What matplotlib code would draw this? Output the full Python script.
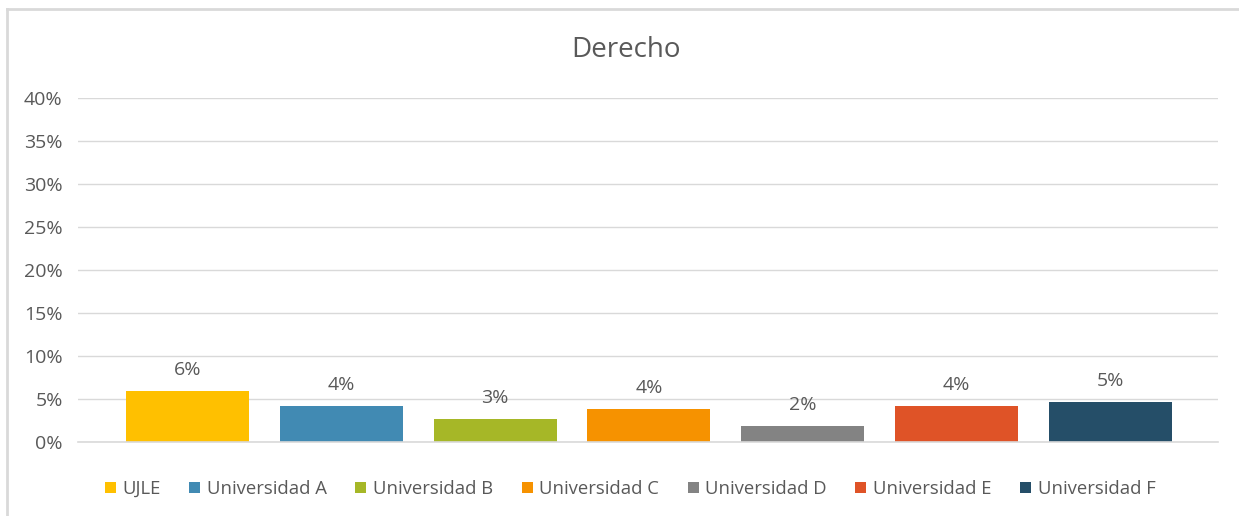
import matplotlib.pyplot as plt
from matplotlib.patches import Patch
from matplotlib.lines import Line2D
from matplotlib.ticker import FuncFormatter

plt.rcParams['font.family'] = ['Open Sans', 'DejaVu Sans']

title = "Derecho"
universidades = ["UJLE", "Universidad A", "Universidad B", "Universidad C",
                 "Universidad D", "Universidad E", "Universidad F"]
valores = [5.9, 4.2, 2.7, 3.8, 1.9, 4.2, 4.6]
colores = ["#FFC000", "#418AB3", "#A6B727", "#F69200",
           "#838383", "#DF5327", "#254E68"]
yticks = [0, 5, 10, 15, 20, 25, 30, 35, 40]

txt = "#595959"
grid = "#D9D9D9"

fig = plt.figure(figsize=(12.39, 5.16), dpi=100)
ax = fig.add_axes([78/1239, 1-442/516, 1140/1239, 344/516])

x = list(range(len(valores)))
bars = ax.bar(x, valores, width=0.8, color=colores, zorder=3)
for xi, v in zip(x, valores):
    ax.text(xi, v + 1.4, f"{round(v):.0f}%", ha='center', va='bottom',
            fontsize=14, color=txt)

ax.set_xlim(-0.712, 6.70)
ax.set_ylim(0, 40)
ax.set_yticks(yticks)
ax.yaxis.set_major_formatter(FuncFormatter(lambda v, p: f"{v:.0f}%"))
ax.tick_params(axis='y', length=0, pad=11, labelsize=14, labelcolor=txt)
ax.set_xticks([])
ax.grid(axis='y', color=grid, linewidth=1, zorder=0)
# baseline at 0%, drawn over the bar bottoms like Excel's axis line
ax.axhline(0, color=grid, linewidth=1.2, zorder=4, clip_on=False)
for s in ax.spines.values():
    s.set_visible(False)

fig.text(626/1239, 1-50/516, title, ha='center', va='center',
         fontsize=20, color=txt)

handles = [Patch(facecolor=c, edgecolor='none') for c in colores]
fig.legend(handles, universidades, loc='center', bbox_to_anchor=(630/1239, 1-489/516),
           ncol=7, frameon=False, fontsize=13.3, labelcolor=txt,
           handlelength=0.6, handleheight=0.6, handletextpad=0.35,
           columnspacing=1.55)

# chart frame
fig.add_artist(Line2D([7/1239, 1], [1-8.5/516, 1-8.5/516], color=grid, linewidth=2))
fig.add_artist(Line2D([7/1239, 7/1239], [0, 1-8.5/516], color=grid, linewidth=2))

fig.savefig("out.png", dpi=100)
